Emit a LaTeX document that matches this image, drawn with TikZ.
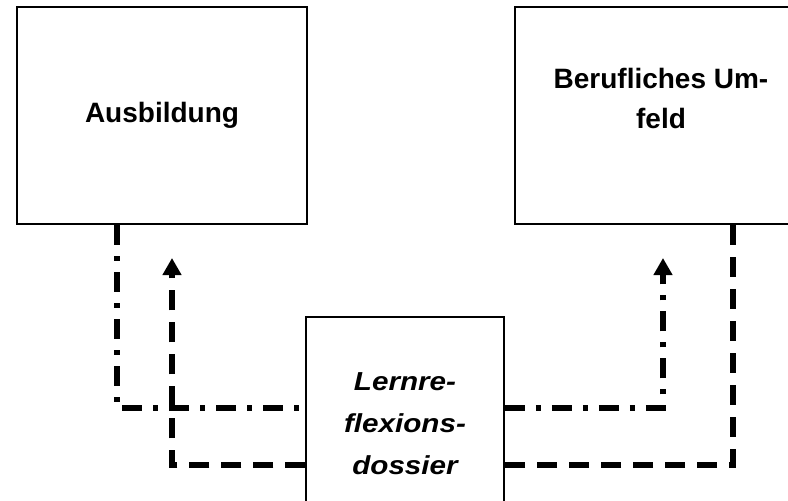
\documentclass[tikz,border=0pt]{standalone}
\usepackage{fontspec}
\setmainfont{Liberation Sans}
\newfontfamily\midfont{Liberation Sans}[FakeStretch=1.14]
\usetikzlibrary{arrows.meta}
\tikzset{
  bigbox/.style={draw=black, line width=2pt, fill=white, inner sep=0pt},
  toptext/.style={font=\fontsize{28}{40}\selectfont\bfseries, align=center, inner sep=0pt},
  midtext/.style={font=\midfont\fontsize{26}{42}\selectfont\bfseries\itshape, align=center},
  dashdotline/.style={line width=5.5pt, dash pattern=on 20pt off 11pt on 5pt off 11pt},
  dashline/.style={line width=5.5pt, dash pattern=on 20pt off 12pt},
  tip/.style={-{Triangle[width=18pt,length=17pt]}}
}
\begin{document}
\begin{tikzpicture}[x=1pt,y=-1pt]
\useasboundingbox (0,0) rectangle (788,501);
\fill[white] (0,0) rectangle (788,501);
\clip (0,0) rectangle (788,501);
% boxes
\node[bigbox, minimum width=290pt, minimum height=217pt, toptext] (A) at (162,115.5) {Ausbildung};
\node[bigbox, minimum width=292pt, minimum height=217pt] (B) at (661,115.5) {};
\node[toptext] (Bt) at (661,98) {Berufliches Um-\\feld};
\node[bigbox, line width=1.5pt, minimum width=198pt, minimum height=213pt, midtext] (M) at (405,423.5) {Lernre-\\flexions-\\dossier};
% helper coordinates
\coordinate (c1) at (117,408);
\coordinate (c2) at (172,465);
\coordinate (c3) at (172,258);
\coordinate (c4) at (663,408);
\coordinate (c5) at (663,258);
\coordinate (c6) at (733,465);
% connectors
\draw[dashdotline] (A.south -| c1) |- (M.west |- c1);
\draw[dashline, tip] (M.west |- c2) -| (c3);
\draw[dashdotline, tip] (M.east |- c4) -| (c5);
\draw[dashline] (B.south -| c6) |- (M.east |- c6);
\end{tikzpicture}
\end{document}
